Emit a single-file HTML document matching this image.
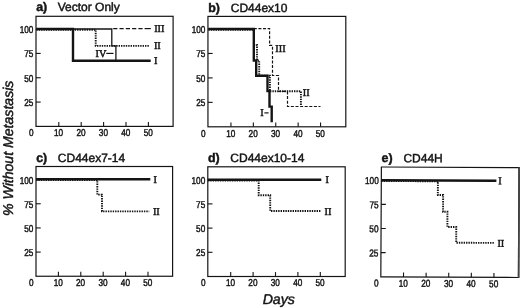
<!DOCTYPE html>
<html><head><meta charset="utf-8"><title>Figure</title>
<style>html,body{margin:0;padding:0;background:#fff;}svg{display:block;filter:grayscale(1) blur(0.15px);}text{fill:#141414;text-rendering:geometricPrecision;}</style>
</head><body>
<svg width="520" height="308" viewBox="0 0 520 308">
<rect width="520" height="308" fill="#fff"/>
<rect x="36.0" y="16.3" width="137.10" height="110.10" fill="none" stroke="#141414" stroke-width="1.2"/>
<line x1="36.0" y1="29.10" x2="40.70" y2="29.10" stroke="#141414" stroke-width="1.1"/>
<text transform="translate(33.40 33.00) scale(0.82 1)" font-family='"Liberation Sans", sans-serif' font-size="10.0" text-anchor="end" font-weight="normal" font-style="normal" stroke="#141414" stroke-width="0.45">100</text>
<line x1="36.0" y1="53.42" x2="40.70" y2="53.42" stroke="#141414" stroke-width="1.1"/>
<text transform="translate(33.40 57.32) scale(0.82 1)" font-family='"Liberation Sans", sans-serif' font-size="10.0" text-anchor="end" font-weight="normal" font-style="normal" stroke="#141414" stroke-width="0.45">75</text>
<line x1="36.0" y1="77.75" x2="40.70" y2="77.75" stroke="#141414" stroke-width="1.1"/>
<text transform="translate(33.40 81.65) scale(0.82 1)" font-family='"Liberation Sans", sans-serif' font-size="10.0" text-anchor="end" font-weight="normal" font-style="normal" stroke="#141414" stroke-width="0.45">50</text>
<line x1="36.0" y1="102.08" x2="40.70" y2="102.08" stroke="#141414" stroke-width="1.1"/>
<text transform="translate(33.40 105.98) scale(0.82 1)" font-family='"Liberation Sans", sans-serif' font-size="10.0" text-anchor="end" font-weight="normal" font-style="normal" stroke="#141414" stroke-width="0.45">25</text>
<line x1="58.80" y1="126.4" x2="58.80" y2="122.00" stroke="#141414" stroke-width="1.1"/>
<text transform="translate(58.60 136.20) scale(0.82 1)" font-family='"Liberation Sans", sans-serif' font-size="10.0" text-anchor="middle" font-weight="normal" font-style="normal" stroke="#141414" stroke-width="0.45">10</text>
<line x1="81.20" y1="126.4" x2="81.20" y2="122.00" stroke="#141414" stroke-width="1.1"/>
<text transform="translate(81.00 136.20) scale(0.82 1)" font-family='"Liberation Sans", sans-serif' font-size="10.0" text-anchor="middle" font-weight="normal" font-style="normal" stroke="#141414" stroke-width="0.45">20</text>
<line x1="103.60" y1="126.4" x2="103.60" y2="122.00" stroke="#141414" stroke-width="1.1"/>
<text transform="translate(103.40 136.20) scale(0.82 1)" font-family='"Liberation Sans", sans-serif' font-size="10.0" text-anchor="middle" font-weight="normal" font-style="normal" stroke="#141414" stroke-width="0.45">30</text>
<line x1="126.00" y1="126.4" x2="126.00" y2="122.00" stroke="#141414" stroke-width="1.1"/>
<text transform="translate(125.80 136.20) scale(0.82 1)" font-family='"Liberation Sans", sans-serif' font-size="10.0" text-anchor="middle" font-weight="normal" font-style="normal" stroke="#141414" stroke-width="0.45">40</text>
<line x1="148.40" y1="126.4" x2="148.40" y2="122.00" stroke="#141414" stroke-width="1.1"/>
<text transform="translate(148.20 136.20) scale(0.82 1)" font-family='"Liberation Sans", sans-serif' font-size="10.0" text-anchor="middle" font-weight="normal" font-style="normal" stroke="#141414" stroke-width="0.45">50</text>
<text transform="translate(31.40 136.20) scale(0.82 1)" font-family='"Liberation Sans", sans-serif' font-size="10.0" text-anchor="middle" font-weight="normal" font-style="normal" stroke="#141414" stroke-width="0.45">0</text>
<text x="36.20" y="11.40" font-family='"Liberation Sans", sans-serif' font-size="12.4" text-anchor="start" font-weight="bold" font-style="normal" stroke="#141414" stroke-width="0.45">a)</text>
<text x="57.70" y="11.40" font-family='"Liberation Sans", sans-serif' font-size="12.0" text-anchor="start" font-weight="normal" font-style="normal" stroke="#141414" stroke-width="0.45">Vector Only</text>
<rect x="207.95" y="16.4" width="137.85" height="110.40" fill="none" stroke="#141414" stroke-width="1.2"/>
<line x1="207.95" y1="29.00" x2="212.65" y2="29.00" stroke="#141414" stroke-width="1.1"/>
<text transform="translate(205.35 32.90) scale(0.82 1)" font-family='"Liberation Sans", sans-serif' font-size="10.0" text-anchor="end" font-weight="normal" font-style="normal" stroke="#141414" stroke-width="0.45">100</text>
<line x1="207.95" y1="53.45" x2="212.65" y2="53.45" stroke="#141414" stroke-width="1.1"/>
<text transform="translate(205.35 57.35) scale(0.82 1)" font-family='"Liberation Sans", sans-serif' font-size="10.0" text-anchor="end" font-weight="normal" font-style="normal" stroke="#141414" stroke-width="0.45">75</text>
<line x1="207.95" y1="77.90" x2="212.65" y2="77.90" stroke="#141414" stroke-width="1.1"/>
<text transform="translate(205.35 81.80) scale(0.82 1)" font-family='"Liberation Sans", sans-serif' font-size="10.0" text-anchor="end" font-weight="normal" font-style="normal" stroke="#141414" stroke-width="0.45">50</text>
<line x1="207.95" y1="102.35" x2="212.65" y2="102.35" stroke="#141414" stroke-width="1.1"/>
<text transform="translate(205.35 106.25) scale(0.82 1)" font-family='"Liberation Sans", sans-serif' font-size="10.0" text-anchor="end" font-weight="normal" font-style="normal" stroke="#141414" stroke-width="0.45">25</text>
<line x1="230.95" y1="126.8" x2="230.95" y2="122.40" stroke="#141414" stroke-width="1.1"/>
<text transform="translate(230.75 136.60) scale(0.82 1)" font-family='"Liberation Sans", sans-serif' font-size="10.0" text-anchor="middle" font-weight="normal" font-style="normal" stroke="#141414" stroke-width="0.45">10</text>
<line x1="253.35" y1="126.8" x2="253.35" y2="122.40" stroke="#141414" stroke-width="1.1"/>
<text transform="translate(253.15 136.60) scale(0.82 1)" font-family='"Liberation Sans", sans-serif' font-size="10.0" text-anchor="middle" font-weight="normal" font-style="normal" stroke="#141414" stroke-width="0.45">20</text>
<line x1="275.75" y1="126.8" x2="275.75" y2="122.40" stroke="#141414" stroke-width="1.1"/>
<text transform="translate(275.55 136.60) scale(0.82 1)" font-family='"Liberation Sans", sans-serif' font-size="10.0" text-anchor="middle" font-weight="normal" font-style="normal" stroke="#141414" stroke-width="0.45">30</text>
<line x1="298.15" y1="126.8" x2="298.15" y2="122.40" stroke="#141414" stroke-width="1.1"/>
<text transform="translate(297.95 136.60) scale(0.82 1)" font-family='"Liberation Sans", sans-serif' font-size="10.0" text-anchor="middle" font-weight="normal" font-style="normal" stroke="#141414" stroke-width="0.45">40</text>
<line x1="320.55" y1="126.8" x2="320.55" y2="122.40" stroke="#141414" stroke-width="1.1"/>
<text transform="translate(320.35 136.60) scale(0.82 1)" font-family='"Liberation Sans", sans-serif' font-size="10.0" text-anchor="middle" font-weight="normal" font-style="normal" stroke="#141414" stroke-width="0.45">50</text>
<text transform="translate(203.35 136.60) scale(0.82 1)" font-family='"Liberation Sans", sans-serif' font-size="10.0" text-anchor="middle" font-weight="normal" font-style="normal" stroke="#141414" stroke-width="0.45">0</text>
<text x="208.15" y="11.50" font-family='"Liberation Sans", sans-serif' font-size="12.4" text-anchor="start" font-weight="bold" font-style="normal" stroke="#141414" stroke-width="0.45">b)</text>
<text x="230.75" y="11.50" font-family='"Liberation Sans", sans-serif' font-size="12.0" text-anchor="start" font-weight="normal" font-style="normal" stroke="#141414" stroke-width="0.45">CD44ex10</text>
<rect x="36.0" y="166.5" width="136.60" height="109.75" fill="none" stroke="#141414" stroke-width="1.2"/>
<line x1="36.0" y1="179.60" x2="40.70" y2="179.60" stroke="#141414" stroke-width="1.1"/>
<text transform="translate(33.40 183.50) scale(0.82 1)" font-family='"Liberation Sans", sans-serif' font-size="10.0" text-anchor="end" font-weight="normal" font-style="normal" stroke="#141414" stroke-width="0.45">100</text>
<line x1="36.0" y1="203.76" x2="40.70" y2="203.76" stroke="#141414" stroke-width="1.1"/>
<text transform="translate(33.40 207.66) scale(0.82 1)" font-family='"Liberation Sans", sans-serif' font-size="10.0" text-anchor="end" font-weight="normal" font-style="normal" stroke="#141414" stroke-width="0.45">75</text>
<line x1="36.0" y1="227.93" x2="40.70" y2="227.93" stroke="#141414" stroke-width="1.1"/>
<text transform="translate(33.40 231.83) scale(0.82 1)" font-family='"Liberation Sans", sans-serif' font-size="10.0" text-anchor="end" font-weight="normal" font-style="normal" stroke="#141414" stroke-width="0.45">50</text>
<line x1="36.0" y1="252.09" x2="40.70" y2="252.09" stroke="#141414" stroke-width="1.1"/>
<text transform="translate(33.40 255.99) scale(0.82 1)" font-family='"Liberation Sans", sans-serif' font-size="10.0" text-anchor="end" font-weight="normal" font-style="normal" stroke="#141414" stroke-width="0.45">25</text>
<line x1="58.40" y1="276.25" x2="58.40" y2="271.85" stroke="#141414" stroke-width="1.1"/>
<text transform="translate(58.20 286.05) scale(0.82 1)" font-family='"Liberation Sans", sans-serif' font-size="10.0" text-anchor="middle" font-weight="normal" font-style="normal" stroke="#141414" stroke-width="0.45">10</text>
<line x1="80.80" y1="276.25" x2="80.80" y2="271.85" stroke="#141414" stroke-width="1.1"/>
<text transform="translate(80.60 286.05) scale(0.82 1)" font-family='"Liberation Sans", sans-serif' font-size="10.0" text-anchor="middle" font-weight="normal" font-style="normal" stroke="#141414" stroke-width="0.45">20</text>
<line x1="103.20" y1="276.25" x2="103.20" y2="271.85" stroke="#141414" stroke-width="1.1"/>
<text transform="translate(103.00 286.05) scale(0.82 1)" font-family='"Liberation Sans", sans-serif' font-size="10.0" text-anchor="middle" font-weight="normal" font-style="normal" stroke="#141414" stroke-width="0.45">30</text>
<line x1="125.60" y1="276.25" x2="125.60" y2="271.85" stroke="#141414" stroke-width="1.1"/>
<text transform="translate(125.40 286.05) scale(0.82 1)" font-family='"Liberation Sans", sans-serif' font-size="10.0" text-anchor="middle" font-weight="normal" font-style="normal" stroke="#141414" stroke-width="0.45">40</text>
<line x1="148.00" y1="276.25" x2="148.00" y2="271.85" stroke="#141414" stroke-width="1.1"/>
<text transform="translate(147.80 286.05) scale(0.82 1)" font-family='"Liberation Sans", sans-serif' font-size="10.0" text-anchor="middle" font-weight="normal" font-style="normal" stroke="#141414" stroke-width="0.45">50</text>
<text transform="translate(31.40 286.05) scale(0.82 1)" font-family='"Liberation Sans", sans-serif' font-size="10.0" text-anchor="middle" font-weight="normal" font-style="normal" stroke="#141414" stroke-width="0.45">0</text>
<text x="36.20" y="161.60" font-family='"Liberation Sans", sans-serif' font-size="12.4" text-anchor="start" font-weight="bold" font-style="normal" stroke="#141414" stroke-width="0.45">c)</text>
<text x="57.80" y="161.60" font-family='"Liberation Sans", sans-serif' font-size="12.0" text-anchor="start" font-weight="normal" font-style="normal" stroke="#141414" stroke-width="0.45">CD44ex7-14</text>
<rect x="207.8" y="166.8" width="137.40" height="109.70" fill="none" stroke="#141414" stroke-width="1.2"/>
<line x1="207.8" y1="179.70" x2="212.50" y2="179.70" stroke="#141414" stroke-width="1.1"/>
<text transform="translate(205.20 183.60) scale(0.82 1)" font-family='"Liberation Sans", sans-serif' font-size="10.0" text-anchor="end" font-weight="normal" font-style="normal" stroke="#141414" stroke-width="0.45">100</text>
<line x1="207.8" y1="203.90" x2="212.50" y2="203.90" stroke="#141414" stroke-width="1.1"/>
<text transform="translate(205.20 207.80) scale(0.82 1)" font-family='"Liberation Sans", sans-serif' font-size="10.0" text-anchor="end" font-weight="normal" font-style="normal" stroke="#141414" stroke-width="0.45">75</text>
<line x1="207.8" y1="228.10" x2="212.50" y2="228.10" stroke="#141414" stroke-width="1.1"/>
<text transform="translate(205.20 232.00) scale(0.82 1)" font-family='"Liberation Sans", sans-serif' font-size="10.0" text-anchor="end" font-weight="normal" font-style="normal" stroke="#141414" stroke-width="0.45">50</text>
<line x1="207.8" y1="252.30" x2="212.50" y2="252.30" stroke="#141414" stroke-width="1.1"/>
<text transform="translate(205.20 256.20) scale(0.82 1)" font-family='"Liberation Sans", sans-serif' font-size="10.0" text-anchor="end" font-weight="normal" font-style="normal" stroke="#141414" stroke-width="0.45">25</text>
<line x1="230.70" y1="276.5" x2="230.70" y2="272.10" stroke="#141414" stroke-width="1.1"/>
<text transform="translate(230.50 286.30) scale(0.82 1)" font-family='"Liberation Sans", sans-serif' font-size="10.0" text-anchor="middle" font-weight="normal" font-style="normal" stroke="#141414" stroke-width="0.45">10</text>
<line x1="253.10" y1="276.5" x2="253.10" y2="272.10" stroke="#141414" stroke-width="1.1"/>
<text transform="translate(252.90 286.30) scale(0.82 1)" font-family='"Liberation Sans", sans-serif' font-size="10.0" text-anchor="middle" font-weight="normal" font-style="normal" stroke="#141414" stroke-width="0.45">20</text>
<line x1="275.50" y1="276.5" x2="275.50" y2="272.10" stroke="#141414" stroke-width="1.1"/>
<text transform="translate(275.30 286.30) scale(0.82 1)" font-family='"Liberation Sans", sans-serif' font-size="10.0" text-anchor="middle" font-weight="normal" font-style="normal" stroke="#141414" stroke-width="0.45">30</text>
<line x1="297.90" y1="276.5" x2="297.90" y2="272.10" stroke="#141414" stroke-width="1.1"/>
<text transform="translate(297.70 286.30) scale(0.82 1)" font-family='"Liberation Sans", sans-serif' font-size="10.0" text-anchor="middle" font-weight="normal" font-style="normal" stroke="#141414" stroke-width="0.45">40</text>
<line x1="320.30" y1="276.5" x2="320.30" y2="272.10" stroke="#141414" stroke-width="1.1"/>
<text transform="translate(320.10 286.30) scale(0.82 1)" font-family='"Liberation Sans", sans-serif' font-size="10.0" text-anchor="middle" font-weight="normal" font-style="normal" stroke="#141414" stroke-width="0.45">50</text>
<text transform="translate(203.20 286.30) scale(0.82 1)" font-family='"Liberation Sans", sans-serif' font-size="10.0" text-anchor="middle" font-weight="normal" font-style="normal" stroke="#141414" stroke-width="0.45">0</text>
<text x="208.00" y="161.90" font-family='"Liberation Sans", sans-serif' font-size="12.4" text-anchor="start" font-weight="bold" font-style="normal" stroke="#141414" stroke-width="0.45">d)</text>
<text x="230.30" y="161.90" font-family='"Liberation Sans", sans-serif' font-size="12.0" text-anchor="start" font-weight="normal" font-style="normal" stroke="#141414" stroke-width="0.45">CD44ex10-14</text>
<path d="M113.20 28.60 L144.60 28.60" fill="none" stroke="#141414" stroke-width="1.2" stroke-dasharray="4.2 2.1" stroke-dashoffset="0" stroke-linecap="butt" stroke-linejoin="miter"/>
<path d="M144.60 28.60 L150.80 28.60" fill="none" stroke="#141414" stroke-width="1.2" stroke-linecap="butt" stroke-linejoin="miter"/>
<path d="M36.30 29.80 L95.70 29.80 L95.70 45.90 L149.30 45.90" fill="none" stroke="#141414" stroke-width="1.9" stroke-dasharray="1.4 1.0" stroke-dashoffset="0" stroke-linecap="butt" stroke-linejoin="miter"/>
<path d="M73.00 29.00 L111.80 29.00 L111.80 45.90 L115.90 45.90 L115.90 60.80" fill="none" stroke="#141414" stroke-width="1.3" stroke-linecap="butt" stroke-linejoin="miter"/>
<path d="M36.30 29.00 L73.00 29.00 L73.00 60.80 L150.70 60.80" fill="none" stroke="#141414" stroke-width="2.4" stroke-linecap="butt" stroke-linejoin="miter"/>
<path d="M253.80 28.60 L269.60 28.60 L269.60 45.40 L272.50 45.40 L272.50 75.50 L278.50 75.50 L278.50 91.40 L287.50 91.40 L287.50 106.50 L320.50 106.50" fill="none" stroke="#141414" stroke-width="1.2" stroke-dasharray="3.0 1.6" stroke-dashoffset="0" stroke-linecap="butt" stroke-linejoin="miter"/>
<path d="M208.40 29.80 L253.80 29.80" fill="none" stroke="#141414" stroke-width="1.9" stroke-dasharray="1.4 1.0" stroke-dashoffset="0" stroke-linecap="butt" stroke-linejoin="miter"/>
<path d="M253.80 45.00 L257.00 45.00 L257.00 60.50 L259.20 60.50 L259.20 75.70 L269.90 75.70 L269.90 91.20 L300.90 91.20 L300.90 106.20" fill="none" stroke="#141414" stroke-width="1.9" stroke-dasharray="1.4 1.0" stroke-dashoffset="0" stroke-linecap="butt" stroke-linejoin="miter"/>
<path d="M208.40 29.00 L253.80 29.00 L253.80 60.50 L256.20 60.50 L256.20 75.70 L267.50 75.70 L267.50 91.10 L269.50 91.10 L269.50 106.60 L271.70 106.60 L271.70 122.30" fill="none" stroke="#141414" stroke-width="2.4" stroke-linecap="butt" stroke-linejoin="miter"/>
<path d="M36.00 180.10 L97.30 180.10 L97.30 194.60 L102.00 194.60 L102.00 211.40 L149.20 211.40" fill="none" stroke="#141414" stroke-width="1.9" stroke-dasharray="1.4 1.0" stroke-dashoffset="0" stroke-linecap="butt" stroke-linejoin="miter"/>
<path d="M36.00 179.30 L150.30 179.30" fill="none" stroke="#141414" stroke-width="2.4" stroke-linecap="butt" stroke-linejoin="miter"/>
<path d="M207.90 180.50 L258.70 180.50 L258.70 195.20 L270.20 195.20 L270.20 211.00 L320.80 211.00" fill="none" stroke="#141414" stroke-width="1.9" stroke-dasharray="1.4 1.0" stroke-dashoffset="0" stroke-linecap="butt" stroke-linejoin="miter"/>
<path d="M207.90 179.70 L321.30 179.70" fill="none" stroke="#141414" stroke-width="2.4" stroke-linecap="butt" stroke-linejoin="miter"/>
<text x="154.20" y="32.10" font-family='"Liberation Serif", serif' font-size="10.3" text-anchor="start" font-weight="normal" font-style="normal" stroke="#141414" stroke-width="0.45">III</text>
<text x="153.90" y="49.30" font-family='"Liberation Serif", serif' font-size="10.3" text-anchor="start" font-weight="normal" font-style="normal" stroke="#141414" stroke-width="0.45">II</text>
<text x="153.90" y="64.20" font-family='"Liberation Serif", serif' font-size="10.3" text-anchor="start" font-weight="normal" font-style="normal" stroke="#141414" stroke-width="0.45">I</text>
<text x="95.60" y="56.80" font-family='"Liberation Serif", serif' font-size="10.3" text-anchor="start" font-weight="normal" font-style="normal" stroke="#141414" stroke-width="0.45">IV</text>
<path d="M106.30 53.40 L113.50 53.40" fill="none" stroke="#141414" stroke-width="1.2" stroke-linecap="butt" stroke-linejoin="miter"/>
<text x="275.30" y="52.30" font-family='"Liberation Serif", serif' font-size="10.3" text-anchor="start" font-weight="normal" font-style="normal" stroke="#141414" stroke-width="0.45">III</text>
<text x="302.80" y="95.60" font-family='"Liberation Serif", serif' font-size="10.3" text-anchor="start" font-weight="normal" font-style="normal" stroke="#141414" stroke-width="0.45">II</text>
<text x="260.20" y="116.10" font-family='"Liberation Serif", serif' font-size="10.3" text-anchor="start" font-weight="normal" font-style="normal" stroke="#141414" stroke-width="0.45">I</text>
<path d="M264.40 112.90 L268.60 112.90" fill="none" stroke="#141414" stroke-width="1.2" stroke-linecap="butt" stroke-linejoin="miter"/>
<text x="153.50" y="183.00" font-family='"Liberation Serif", serif' font-size="10.3" text-anchor="start" font-weight="normal" font-style="normal" stroke="#141414" stroke-width="0.45">I</text>
<text x="152.90" y="214.70" font-family='"Liberation Serif", serif' font-size="10.3" text-anchor="start" font-weight="normal" font-style="normal" stroke="#141414" stroke-width="0.45">II</text>
<text x="325.40" y="183.00" font-family='"Liberation Serif", serif' font-size="10.3" text-anchor="start" font-weight="normal" font-style="normal" stroke="#141414" stroke-width="0.45">I</text>
<text x="324.50" y="214.70" font-family='"Liberation Serif", serif' font-size="10.3" text-anchor="start" font-weight="normal" font-style="normal" stroke="#141414" stroke-width="0.45">II</text>
<g transform="rotate(0.29 450 222)"><rect x="381.1" y="167.35" width="137.60" height="109.80" fill="none" stroke="#141414" stroke-width="1.2"/>
<line x1="519.0" y1="166.75" x2="519.0" y2="277.75" stroke="#444" stroke-width="1.8"/>
<line x1="381.1" y1="180.55" x2="385.80" y2="180.55" stroke="#141414" stroke-width="1.1"/>
<text transform="translate(378.50 184.45) scale(0.82 1)" font-family='"Liberation Sans", sans-serif' font-size="10.0" text-anchor="end" font-weight="normal" font-style="normal" stroke="#141414" stroke-width="0.45">100</text>
<line x1="381.1" y1="204.70" x2="385.80" y2="204.70" stroke="#141414" stroke-width="1.1"/>
<text transform="translate(378.50 208.60) scale(0.82 1)" font-family='"Liberation Sans", sans-serif' font-size="10.0" text-anchor="end" font-weight="normal" font-style="normal" stroke="#141414" stroke-width="0.45">75</text>
<line x1="381.1" y1="228.85" x2="385.80" y2="228.85" stroke="#141414" stroke-width="1.1"/>
<text transform="translate(378.50 232.75) scale(0.82 1)" font-family='"Liberation Sans", sans-serif' font-size="10.0" text-anchor="end" font-weight="normal" font-style="normal" stroke="#141414" stroke-width="0.45">50</text>
<line x1="381.1" y1="253.00" x2="385.80" y2="253.00" stroke="#141414" stroke-width="1.1"/>
<text transform="translate(378.50 256.90) scale(0.82 1)" font-family='"Liberation Sans", sans-serif' font-size="10.0" text-anchor="end" font-weight="normal" font-style="normal" stroke="#141414" stroke-width="0.45">25</text>
<line x1="403.80" y1="277.15" x2="403.80" y2="272.75" stroke="#141414" stroke-width="1.1"/>
<text transform="translate(403.60 286.95) scale(0.82 1)" font-family='"Liberation Sans", sans-serif' font-size="10.0" text-anchor="middle" font-weight="normal" font-style="normal" stroke="#141414" stroke-width="0.45">10</text>
<line x1="426.40" y1="277.15" x2="426.40" y2="272.75" stroke="#141414" stroke-width="1.1"/>
<text transform="translate(426.20 286.95) scale(0.82 1)" font-family='"Liberation Sans", sans-serif' font-size="10.0" text-anchor="middle" font-weight="normal" font-style="normal" stroke="#141414" stroke-width="0.45">20</text>
<line x1="449.00" y1="277.15" x2="449.00" y2="272.75" stroke="#141414" stroke-width="1.1"/>
<text transform="translate(448.80 286.95) scale(0.82 1)" font-family='"Liberation Sans", sans-serif' font-size="10.0" text-anchor="middle" font-weight="normal" font-style="normal" stroke="#141414" stroke-width="0.45">30</text>
<line x1="471.60" y1="277.15" x2="471.60" y2="272.75" stroke="#141414" stroke-width="1.1"/>
<text transform="translate(471.40 286.95) scale(0.82 1)" font-family='"Liberation Sans", sans-serif' font-size="10.0" text-anchor="middle" font-weight="normal" font-style="normal" stroke="#141414" stroke-width="0.45">40</text>
<line x1="494.20" y1="277.15" x2="494.20" y2="272.75" stroke="#141414" stroke-width="1.1"/>
<text transform="translate(494.00 286.95) scale(0.82 1)" font-family='"Liberation Sans", sans-serif' font-size="10.0" text-anchor="middle" font-weight="normal" font-style="normal" stroke="#141414" stroke-width="0.45">50</text>
<text transform="translate(376.50 286.95) scale(0.82 1)" font-family='"Liberation Sans", sans-serif' font-size="10.0" text-anchor="middle" font-weight="normal" font-style="normal" stroke="#141414" stroke-width="0.45">0</text>
<text x="381.30" y="162.45" font-family='"Liberation Sans", sans-serif' font-size="12.4" text-anchor="start" font-weight="bold" font-style="normal" stroke="#141414" stroke-width="0.45">e)</text>
<text x="403.10" y="162.45" font-family='"Liberation Sans", sans-serif' font-size="12.0" text-anchor="start" font-weight="normal" font-style="normal" stroke="#141414" stroke-width="0.45">CD44H</text>
<path d="M381.10 181.35 L437.70 181.35 L437.70 195.00 L443.00 195.00 L443.00 211.80 L447.40 211.80 L447.40 227.00 L456.30 227.00 L456.30 242.70 L494.00 242.70" fill="none" stroke="#141414" stroke-width="1.9" stroke-dasharray="1.4 1.0" stroke-dashoffset="0" stroke-linecap="butt" stroke-linejoin="miter"/>
<path d="M381.10 180.55 L496.20 180.55" fill="none" stroke="#141414" stroke-width="2.4" stroke-linecap="butt" stroke-linejoin="miter"/>
<text x="498.00" y="183.90" font-family='"Liberation Serif", serif' font-size="10.3" text-anchor="start" font-weight="normal" font-style="normal" stroke="#141414" stroke-width="0.45">I</text>
<text x="497.50" y="246.40" font-family='"Liberation Serif", serif' font-size="10.3" text-anchor="start" font-weight="normal" font-style="normal" stroke="#141414" stroke-width="0.45">II</text></g>
<text x="278.80" y="303.70" font-family='"Liberation Sans", sans-serif' font-size="14.2" text-anchor="middle" font-weight="normal" font-style="italic" stroke="#141414" stroke-width="0.45">Days</text>
<text transform="translate(13.3 148.3) rotate(-90)" font-family='"Liberation Sans", sans-serif' font-size="14.1" text-anchor="middle" font-style="italic" stroke="#141414" stroke-width="0.45">% Without Metastasis</text>
</svg>
</body></html>
